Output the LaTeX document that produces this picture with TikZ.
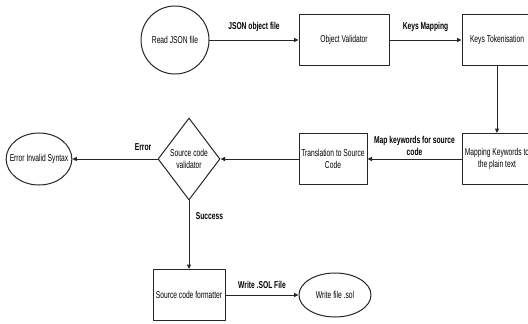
\documentclass[tikz,border=0pt]{standalone}
\usepackage{fontspec}
\setmainfont{Liberation Sans}[FakeStretch=0.67]
\usepackage{tikz}
\usetikzlibrary{arrows.meta,shapes.geometric,positioning}

\begin{document}
\begin{tikzpicture}[x=1pt, y=-1pt, font=\fontsize{10}{12}\selectfont, line cap=round, line join=round, >={Triangle[length=4.5pt,width=4pt]},
  flow/.style={->, line width=1pt, black!85},
  proc/.style={draw, line width=1pt, black!85, text=black, minimum width=70pt, minimum height=51pt, inner sep=1pt, align=center},
  term/.style={draw, ellipse, line width=1pt, black!85, text=black, align=center},
  lbl/.style={font=\fontsize{10}{12}\selectfont\bfseries, text=black, align=center}]
\useasboundingbox (0,0) rectangle (528,324);
\clip (0,0) rectangle (528,324);
\node[draw, circle, line width=1pt, black!85, text=black, minimum size=68pt] (read) at (175,40) {Read JSON file};
\node[proc, minimum width=90pt] (objval) at (344,40) {Object Validator};
\node[proc] (keytok) at (497,40) {Keys Tokenisation};
\node[proc] (mapkw) at (497,159) {Mapping Keywords to\\the plain text};
\node[proc, minimum width=68pt] (transl) at (333,159) {Translation to Source\\Code};
\node[draw, diamond, line width=1pt, black!85, text=black, minimum width=62pt, minimum height=82pt, inner sep=0pt, align=center] (srccheck) at (189,159) {Source code\\validator};
\node[term, minimum width=64pt, minimum height=52pt, inner xsep=-6pt] (errsyn) at (39,159) {Error Invalid Syntax};
\node[proc, minimum width=72pt] (fmt) at (189,295) {Source code formatter};
\node[term, minimum width=72pt, minimum height=44pt] (wrfile) at (335,295) {Write file .sol};
\draw[flow] (read) -- node[lbl, above=4.5pt] {JSON object file} (objval);
\draw[flow] (objval) -- node[lbl, above=4.5pt] {Keys Mapping} (keytok);
\draw[flow] (keytok) -- (mapkw);
\draw[flow] (mapkw) -- node[lbl, above=0pt] {Map keywords for source\\code} (transl);
\draw[flow] (transl) -- (srccheck);
\draw[flow] (srccheck) -- node[lbl, pos=0.17, above=5pt] {Error} (errsyn);
\draw[flow] (srccheck) -- node[lbl, pos=0.22, right=3pt] {Success} (fmt);
\draw[flow] (fmt) -- node[lbl, above=3pt] {Write .SOL File} (wrfile);
\end{tikzpicture}
\end{document}
